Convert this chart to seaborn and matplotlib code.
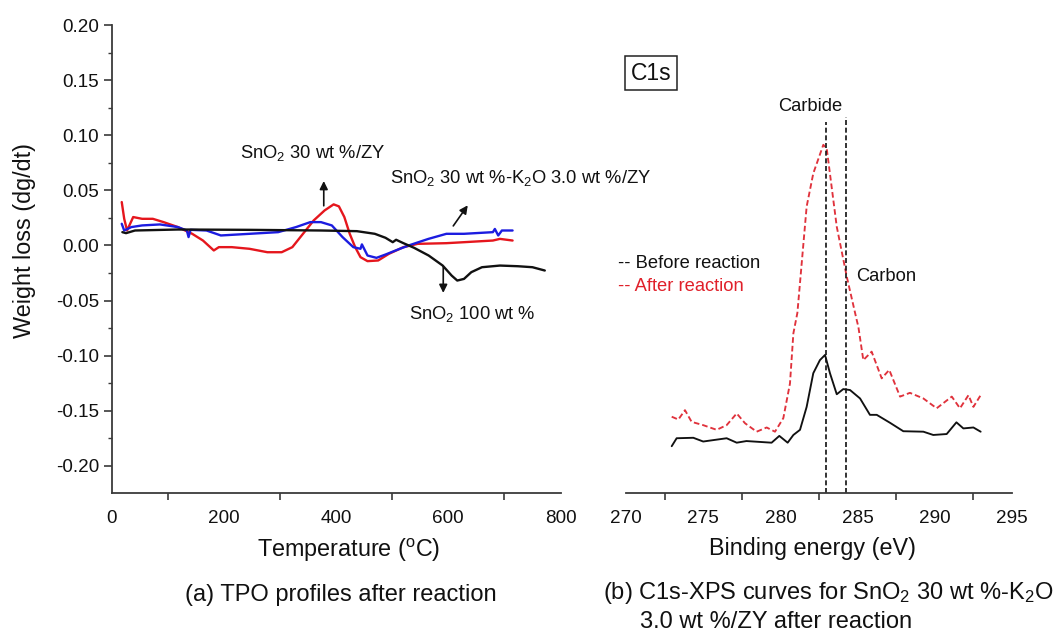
import matplotlib
matplotlib.use("Agg")
import matplotlib.pyplot as plt
from matplotlib.ticker import MultipleLocator
import numpy as np
import pandas as pd
import seaborn as sns

# ---------------- (a) TPO profiles ----------------
temp_sno2_100 = [19, 25.5, 41.5, 118, 245.6, 373, 437, 469, 488, 501, 507, 520, 539,
                 565, 590, 606, 616, 628, 641, 660, 692, 724, 750, 772]
dw_sno2_100 = [0.0121, 0.0112, 0.0136, 0.0145, 0.0142, 0.0136, 0.0130, 0.0106, 0.0070,
               0.0030, 0.0052, 0.0021, -0.0021, -0.0091, -0.0182, -0.0273, -0.0318,
               -0.0303, -0.0242, -0.0197, -0.0182, -0.0188, -0.0197, -0.0227]

temp_sno2_30 = [17.9, 22.3, 27.4, 38.3, 54.2, 73.3, 92.5, 118, 143.5, 162.7, 182, 191,
                214, 245.6, 277.5, 303, 322, 341, 360, 379.5, 395.6, 405, 414.7, 424.3,
                434, 443.5, 456, 475, 494, 520, 545.5, 596.6, 628, 679.5, 692, 714.6]
dw_sno2_30 = [0.0394, 0.0242, 0.0136, 0.0258, 0.0242, 0.0242, 0.0212, 0.0167, 0.0106,
              0.0045, -0.0045, -0.0015, -0.0015, -0.0030, -0.0061, -0.0061, -0.0015,
              0.0106, 0.0227, 0.0318, 0.0373, 0.0355, 0.0258, 0.0106, -0.0015, -0.0106,
              -0.0142, -0.0136, -0.0076, -0.0015, 0.0015, 0.0021, 0.0030, 0.0045,
              0.0060, 0.0045]

temp_sno2_k2o = [17.9, 22.3, 35, 54.2, 86, 118, 134, 137, 140.5, 169, 194.6, 245.6,
                 296.7, 328.6, 354, 373, 392.4, 411.5, 430.7, 443.5, 446, 456, 472, 488,
                 513.6, 532.7, 564.6, 596.6, 628, 679.5, 683, 689, 695.5, 714.6]
dw_sno2_k2o = [0.0197, 0.0136, 0.0167, 0.0182, 0.0191, 0.0167, 0.0136, 0.0076, 0.0142,
               0.0136, 0.0091, 0.0106, 0.0121, 0.0167, 0.0212, 0.0212, 0.0182, 0.0076,
               -0.0015, -0.0030, 0.0010, -0.0091, -0.0112, -0.0082, -0.0030, 0.0006,
               0.0060, 0.0106, 0.0106, 0.0121, 0.0150, 0.0091, 0.0136, 0.0136]

# ---------------- (b) C1s XPS ----------------
be_before = [272.96, 273.28, 274.36, 275.0, 276.52, 277.17, 277.8, 279.43, 279.93,
             280.47, 280.84, 281.27, 281.7, 282.13, 282.56, 282.89, 283.21, 283.65,
             284.07, 284.51, 285.16, 285.8, 286.24, 287.1, 287.96, 289.26, 289.9,
             290.77, 291.4, 291.85, 292.5, 292.97]
int_before = [10.0, 11.7, 11.8, 11.0, 11.7, 10.75, 11.1, 10.75, 12.2, 10.75, 12.4, 13.5,
              18.4, 25.6, 28.4, 29.5, 25.6, 21.1, 22.2, 22.0, 20.2, 16.7, 16.7, 15.0,
              13.2, 13.1, 12.4, 12.6, 15.1, 13.8, 14.0, 13.1]

be_after = [272.96, 273.39, 273.82, 274.25, 275.0, 275.87, 276.52, 277.17, 277.71,
            278.46, 279.11, 279.65, 280.19, 280.62, 280.84, 281.1, 281.7, 282.13,
            282.78, 283.0, 283.65, 284.3, 284.94, 285.05, 285.37, 285.91, 286.56,
            287.05, 287.75, 288.39, 289.26, 290.12, 291.1, 291.63, 292.18, 292.5,
            292.97]
int_after = [16.3, 15.7, 17.7, 15.2, 14.5, 13.5, 14.5, 17.0, 14.9, 13.1, 14.0, 13.1,
             16.0, 23.4, 34.1, 38.5, 61.2, 68.3, 74.4, 73.6, 56.9, 46.2, 37.0, 35.5,
             28.4, 30.2, 24.5, 26.3, 20.6, 21.4, 20.2, 18.1, 20.6, 18.1, 20.9, 18.4,
             20.9]

peak_positions = [282.95, 284.25]
peak_line_tops = [79.3, 80.3]

tpo = pd.concat([
    pd.DataFrame({"T": temp_sno2_30, "dw": dw_sno2_30, "sample": "SnO2 30 wt%/ZY"}),
    pd.DataFrame({"T": temp_sno2_k2o, "dw": dw_sno2_k2o, "sample": "SnO2 30 wt%-K2O 3.0 wt%/ZY"}),
    pd.DataFrame({"T": temp_sno2_100, "dw": dw_sno2_100, "sample": "SnO2 100 wt%"}),
], ignore_index=True)

sns.set_theme(style="white")
plt.rcParams["font.family"] = ["Liberation Sans", "DejaVu Sans"]
plt.rcParams["mathtext.fontset"] = "custom"
plt.rcParams["mathtext.rm"] = "Liberation Sans"
plt.rcParams["mathtext.it"] = "Liberation Sans:italic"
plt.rcParams["mathtext.default"] = "regular"

W, H = 1056, 632
fig = plt.figure(figsize=(W / 100, H / 100), dpi=100)
ax1 = fig.add_axes([111.7 / W, 1 - 493 / H, 448.8 / W, 468 / H])
ax2 = fig.add_axes([626 / W, 1 - 493 / H, 386 / W, 468 / H])

spine_col = "#3a3a3a"
text_col = "#111111"
tick_fs = 13.6
label_fs = 16.8
note_fs = 13.2

palette = {"SnO2 30 wt%/ZY": "#e5161d",
           "SnO2 30 wt%-K2O 3.0 wt%/ZY": "#1c1ce0",
           "SnO2 100 wt%": "#111111"}
sns.lineplot(data=tpo, x="T", y="dw", hue="sample", palette=palette, estimator=None,
             sort=False, linewidth=1.7, legend=False, ax=ax1)

ax1.set_xlim(0, 800)
ax1.set_ylim(-0.2245, 0.20)
ax1.xaxis.set_major_locator(MultipleLocator(200))
ax1.xaxis.set_minor_locator(MultipleLocator(100))
yt = np.round(np.arange(-0.20, 0.2001, 0.05), 2)
ax1.set_yticks(yt)
ax1.set_yticklabels([f"{v:.2f}" if v != 0 else "0.00" for v in yt])
ax1.yaxis.set_minor_locator(MultipleLocator(0.025))

for ax in (ax1, ax2):
    for side in ("top", "right"):
        ax.spines[side].set_visible(False)
    for side in ("left", "bottom"):
        ax.spines[side].set_color(spine_col)
        ax.spines[side].set_linewidth(1.3)
    ax.tick_params(axis="x", which="major", direction="out", length=9, width=1.2,
                   colors=spine_col, labelcolor=text_col, labelsize=tick_fs, pad=3)
    ax.tick_params(axis="x", which="minor", direction="out", length=5, width=1.2,
                   colors=spine_col, bottom=True)
    ax.set_facecolor("none")

ax1.tick_params(axis="y", which="major", direction="out", length=6, width=1.2,
                colors=spine_col, labelcolor=text_col, labelsize=tick_fs, pad=3, left=True)
ax1.tick_params(axis="y", which="minor", direction="out", length=3, width=1.0,
                colors=spine_col, left=True)

ax1.set_xlabel("Temperature ($^{o}$C)", fontsize=label_fs, color=text_col)
ax1.set_ylabel("Weight loss (dg/dt)", fontsize=label_fs, color=text_col)
ax1.xaxis.set_label_coords(0.529, -0.093)
ax1.yaxis.set_label_coords(-0.168, 0.54)

arrow = dict(arrowstyle="-|>", color=text_col, lw=1.2, mutation_scale=12)
ax1.annotate("", xy=(378, 0.061), xytext=(378, 0.0335), arrowprops=arrow)
ax1.annotate("", xy=(637.5, 0.0385), xytext=(606, 0.0157), arrowprops=arrow)
ax1.annotate("", xy=(591, -0.0455), xytext=(591, -0.0167), arrowprops=arrow)
ax1.text(358, 0.0836, "SnO$_2$ 30 wt %/ZY", fontsize=note_fs, ha="center", va="center",
         color=text_col)
ax1.text(496, 0.0609, "SnO$_2$ 30 wt %-K$_2$O 3.0 wt %/ZY", fontsize=note_fs, ha="left",
         va="center", color=text_col, clip_on=False)
ax1.text(530, -0.0618, "SnO$_2$ 100 wt %", fontsize=note_fs, ha="left", va="center",
         color=text_col)

# C1s spectra
xps = pd.concat([
    pd.DataFrame({"BE": be_before, "I": int_before, "state": "Before reaction"}),
    pd.DataFrame({"BE": be_after, "I": int_after, "state": "After reaction"}),
], ignore_index=True)
sns.lineplot(data=xps, x="BE", y="I", hue="state", style="state",
             palette={"Before reaction": "#111111", "After reaction": "#e0323c"},
             dashes={"Before reaction": "", "After reaction": (3, 1.6)},
             estimator=None, sort=False, linewidth=1.35, legend=False, ax=ax2)

for xv, top in zip(peak_positions, peak_line_tops):
    ax2.plot([xv, xv], [0, top], color=text_col, lw=1.2, linestyle=(0, (3, 1.6)))

ax2.set_xlim(270, 295)
ax2.set_ylim(0, 100)
ax2.xaxis.set_major_locator(MultipleLocator(5))
ax2.xaxis.set_minor_locator(MultipleLocator(2.5))
ax2.spines["left"].set_visible(False)
ax2.set_yticks([])
ax2.set_ylabel("")
ax2.set_xlabel("Binding energy (eV)", fontsize=label_fs, color=text_col)
ax2.xaxis.set_label_coords(0.484, -0.093)

ax2.text(271.62, 89.7, "C1s", fontsize=16.5, ha="center", va="center", color=text_col,
         bbox=dict(boxstyle="square,pad=0.25", fc="white", ec="#222222", lw=1.1))
ax2.text(281.92, 82.5, "Carbide", fontsize=note_fs, ha="center", va="center", color=text_col)
ax2.text(284.9, 46.2, "Carbon", fontsize=note_fs, ha="left", va="center", color=text_col)
ax2.text(269.48, 49.1, "-- Before reaction", fontsize=note_fs, ha="left", va="center",
         color=text_col, clip_on=False)
ax2.text(269.48, 44.2, "-- After reaction", fontsize=note_fs, ha="left", va="center",
         color="#e0202a", clip_on=False)

# panel captions
cap_fs = 17
fig.text(341 / W, 1 - 595 / H, "(a) TPO profiles after reaction", fontsize=cap_fs,
         ha="center", va="center", color=text_col)
fig.text(603 / W, 1 - 593 / H, "(b) C1s-XPS curves for SnO$_2$ 30 wt %-K$_2$O",
         fontsize=cap_fs, ha="left", va="center", color=text_col)
fig.text(640 / W, 1 - 622 / H, "3.0 wt %/ZY after reaction", fontsize=cap_fs,
         ha="left", va="center", color=text_col)

fig.savefig("out.png", dpi=100, facecolor="white")
